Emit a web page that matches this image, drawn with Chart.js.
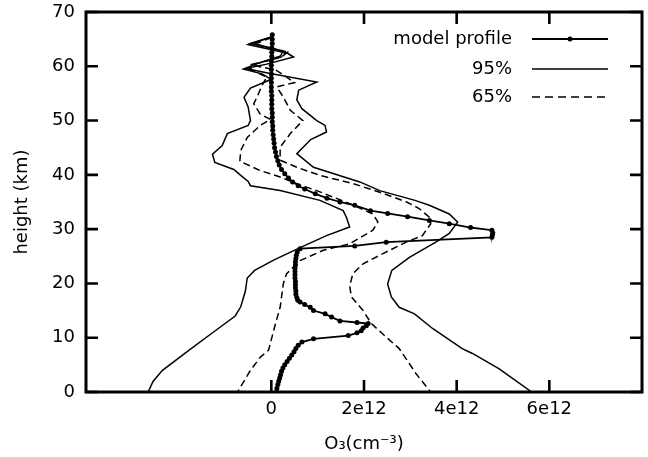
<!DOCTYPE html>
<html>
<head>
<meta charset="utf-8">
<script src="https://cdn.jsdelivr.net/npm/chart.js@4.4.1/dist/chart.umd.min.js"></script>
<style>
  html, body { margin: 0; padding: 0; background: #fff; }
  canvas { display: block; }
</style>
</head>
<body>
<canvas id="c" width="648" height="457"></canvas>
<script>
// O3 values are in units of 1e12 cm^-3, heights in km
const xTickValues = [0, 2, 4, 6];
const yTickValues = [0, 10, 20, 30, 40, 50, 60, 70];

const modelHeight = [65.8,65.0,64.2,63.4,62.6,61.8,61.0,60.2,59.4,58.6,57.8,57.0,56.2,55.4,54.6,53.8,53.0,52.2,51.4,50.6,49.8,49.0,48.2,47.4,46.6,45.8,45.0,44.2,43.4,42.6,41.8,41.0,40.2,39.4,38.7,38.0,37.4,36.5,35.7,35.0,34.4,33.4,32.9,32.3,31.6,31.0,30.3,29.8,29.3,28.9,28.5,27.6,26.9,26.4,25.8,25.2,24.6,24.0,23.4,22.8,22.2,21.6,21.0,20.4,19.8,19.2,18.6,18.0,17.4,16.9,16.6,16.1,15.6,15.0,14.4,13.8,13.1,12.8,12.6,12.2,11.8,11.3,10.9,10.4,9.8,9.2,8.6,8.0,7.4,6.8,6.2,5.6,5.0,4.4,3.8,3.2,2.6,2.0,1.4,0.7,0.0];
const modelO3 = [0.02,0.02,0.02,0.01,0.01,0.01,0.00,0.00,0.00,0.00,0.00,0.00,0.00,0.00,0.01,0.01,0.01,0.01,0.02,0.02,0.02,0.03,0.03,0.04,0.05,0.06,0.07,0.09,0.11,0.14,0.17,0.22,0.29,0.37,0.46,0.58,0.72,0.95,1.20,1.48,1.80,2.14,2.51,2.94,3.41,3.84,4.30,4.76,4.78,4.77,4.76,2.48,1.80,0.62,0.56,0.54,0.53,0.52,0.52,0.51,0.51,0.51,0.51,0.52,0.52,0.52,0.53,0.53,0.55,0.57,0.62,0.72,0.84,0.91,1.16,1.30,1.48,1.85,2.09,2.05,1.98,1.94,1.85,1.66,0.91,0.66,0.58,0.53,0.49,0.44,0.39,0.34,0.29,0.25,0.22,0.20,0.18,0.16,0.14,0.12,0.11];

const upper95Height = [65.4,64.0,62.4,61.7,60.4,59.6,58.7,57.1,55.6,53.8,52.2,50.0,49.1,47.9,46.5,43.9,41.4,40.2,38.7,37.1,35.3,34.4,32.8,31.3,29.2,27.6,24.8,22.4,19.9,17.5,15.6,14.4,11.7,8.0,7.1,4.3,0.0];
const upper95O3 = [0.00,-0.50,0.35,0.48,-0.10,-0.55,-0.05,0.98,0.59,0.55,0.66,0.98,1.16,1.19,0.85,0.55,0.91,1.35,1.91,2.34,3.10,3.41,3.84,4.02,3.84,3.55,2.98,2.60,2.51,2.59,2.76,3.09,3.48,4.12,4.34,4.91,5.62];

const lower95Height = [65.4,64.2,62.8,61.9,60.5,59.5,58.6,57.6,56.0,54.3,52.5,50.0,49.1,47.6,45.4,43.8,42.3,41.0,39.9,38.8,38.0,37.1,35.3,33.4,32.2,30.4,28.8,26.6,24.3,22.4,21.0,18.6,15.7,14.0,11.1,7.5,4.0,2.0,0.0];
const lower95O3 = [0.00,-0.45,0.25,0.20,-0.30,-0.60,-0.20,0.00,-0.45,-0.59,-0.50,-0.45,-0.50,-0.95,-1.06,-1.27,-1.22,-0.81,-0.66,-0.50,-0.45,0.19,1.05,1.55,1.62,1.69,1.19,0.62,0.05,-0.36,-0.52,-0.56,-0.66,-0.78,-1.24,-1.81,-2.35,-2.55,-2.66];

const upper65Height = [65.3,64.2,62.6,61.6,60.3,59.3,58.2,57.0,56.2,54.3,51.9,50.0,47.6,45.1,42.7,41.4,39.9,38.4,36.8,35.0,33.8,32.2,31.0,28.8,27.6,25.5,23.6,21.8,19.5,17.5,15.0,12.6,10.1,8.0,6.1,3.4,0.0];
const upper65O3 = [0.00,-0.40,0.35,0.20,-0.45,0.10,0.30,0.50,0.12,0.26,0.41,0.68,0.41,0.19,0.19,0.55,1.05,1.76,2.34,2.92,3.19,3.41,3.44,3.26,2.91,2.41,1.98,1.76,1.69,1.73,1.98,2.16,2.48,2.76,2.91,3.12,3.44];

const lower65Height = [65.3,64.1,62.7,61.8,60.4,59.4,58.0,56.5,54.3,53.1,51.2,50.2,49.1,46.9,44.5,42.5,40.8,39.6,38.2,37.1,34.7,32.8,31.3,29.8,27.3,26.1,24.2,21.8,20.0,15.6,12.6,7.7,6.4,4.0,0.0];
const lower65O3 = [0.00,-0.35,0.30,0.25,-0.35,-0.45,-0.10,-0.20,-0.31,-0.38,-0.24,-0.02,-0.24,-0.52,-0.66,-0.68,-0.24,0.19,0.60,0.98,1.69,2.19,2.30,2.19,1.69,1.12,0.62,0.33,0.26,0.19,0.09,-0.06,-0.24,-0.45,-0.73];

const seriesLabels = ['model profile', '95%', '65%'];

function pts(xs, hs) { return xs.map((v, i) => ({ x: v, y: hs[i] })); }

const FONT = 'DejaVu Sans';

const framePlugin = {
  id: 'frame',
  afterDraw(chart) {
    const { ctx, chartArea: a, scales: { x, y } } = chart;
    ctx.save();
    ctx.strokeStyle = '#000';
    ctx.lineWidth = 2.6;
    ctx.lineCap = 'butt';
    const tl = 12;
    xTickValues.forEach(v => {
      const px = x.getPixelForValue(v);
      ctx.beginPath();
      ctx.moveTo(px, a.bottom); ctx.lineTo(px, a.bottom - tl);
      ctx.moveTo(px, a.top); ctx.lineTo(px, a.top + tl);
      ctx.stroke();
    });
    yTickValues.forEach(v => {
      const py = y.getPixelForValue(v);
      ctx.beginPath();
      ctx.moveTo(a.left, py); ctx.lineTo(a.left + tl, py);
      ctx.moveTo(a.right, py); ctx.lineTo(a.right - tl, py);
      ctx.stroke();
    });
    ctx.lineWidth = 3;
    ctx.strokeRect(a.left, a.top, a.right - a.left, a.bottom - a.top);

    // legend
    ctx.font = '18px "' + FONT + '"';
    ctx.fillStyle = '#000';
    ctx.textAlign = 'right';
    ctx.textBaseline = 'middle';
    const rows = [39, 69, 97];
    const tx = 512, l0 = 532, l1 = 608;
    seriesLabels.forEach((t, i) => ctx.fillText(t, tx, rows[i]));
    ctx.lineWidth = 1.8;
    ctx.beginPath(); ctx.moveTo(l0, rows[0]); ctx.lineTo(l1, rows[0]); ctx.stroke();
    ctx.beginPath(); ctx.arc((l0 + l1) / 2, rows[0], 2.5, 0, Math.PI * 2); ctx.fill();
    ctx.lineWidth = 1.5;
    ctx.beginPath(); ctx.moveTo(l0, rows[1]); ctx.lineTo(l1, rows[1]); ctx.stroke();
    ctx.setLineDash([8, 5]);
    ctx.beginPath(); ctx.moveTo(l0, rows[2]); ctx.lineTo(l1, rows[2]); ctx.stroke();
    ctx.restore();
  }
};

const lineDs = (label, data, dash) => ({
  label, data, showLine: true, borderColor: '#000', backgroundColor: '#000',
  borderWidth: 1.5, borderDash: dash, pointRadius: 0, tension: 0, fill: false
});

new Chart(document.getElementById('c'), {
  type: 'scatter',
  data: {
    datasets: [
      lineDs('95% upper', pts(upper95O3, upper95Height), []),
      lineDs('95% lower', pts(lower95O3, lower95Height), []),
      lineDs('65% upper', pts(upper65O3, upper65Height), [7, 4]),
      lineDs('65% lower', pts(lower65O3, lower65Height), [7, 4]),
      {
        label: 'model profile', data: pts(modelO3, modelHeight), showLine: true,
        borderColor: '#000', backgroundColor: '#000', borderWidth: 1.8,
        pointRadius: 2.5, pointBorderWidth: 0, tension: 0
      }
    ]
  },
  options: {
    responsive: false,
    animation: false,
    devicePixelRatio: 1,
    layout: { padding: { top: 12, right: 6, left: 0, bottom: 0 } },
    plugins: { legend: { display: false }, tooltip: { enabled: false } },
    scales: {
      x: {
        type: 'linear', min: -4, max: 8, position: 'bottom',
        afterFit: s => { s.height = 65; s.paddingLeft = 0; s.paddingRight = 0; },
        afterBuildTicks: s => { s.ticks = xTickValues.map(v => ({ value: v })); },
        ticks: {
          callback: v => (v === 0 ? '0' : v + 'e12'),
          font: { family: FONT, size: 18 }, color: '#000', padding: 7,
          maxRotation: 0, autoSkip: false
        },
        grid: { display: false, drawTicks: false },
        border: { display: false },
        title: { display: true, text: 'O₃(cm⁻³)', color: '#000', font: { family: FONT, size: 18 }, padding: { top: 0, bottom: 2 } }
      },
      y: {
        type: 'linear', min: 0, max: 70,
        afterFit: s => { s.width = 86; s.paddingTop = 0; s.paddingBottom = 0; },
        afterBuildTicks: s => { s.ticks = yTickValues.map(v => ({ value: v })); },
        ticks: { font: { family: FONT, size: 18 }, color: '#000', padding: 11, autoSkip: false },
        grid: { display: false, drawTicks: false },
        border: { display: false },
        title: { display: true, text: 'height (km)', color: '#000', font: { family: FONT, size: 18 }, padding: { top: 12, bottom: 0 } }
      }
    }
  },
  plugins: [framePlugin]
});
</script>
</body>
</html>
